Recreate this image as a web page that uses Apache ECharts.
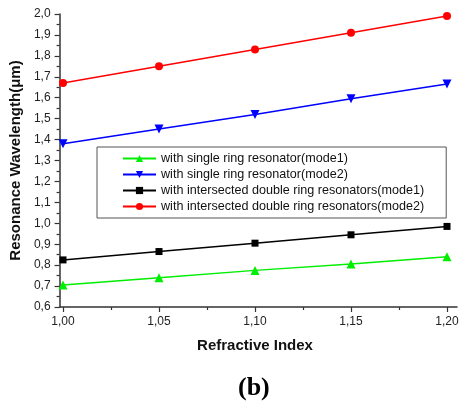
<!DOCTYPE html>
<html>
<head>
<meta charset="utf-8">
<script src="https://cdn.jsdelivr.net/npm/echarts@6/dist/echarts.min.js"></script>
<style>
html, body { margin: 0; padding: 0; background: #fff; }
#chart { width: 462px; height: 402px; }
</style>
</head>
<body>
<div id="chart"></div>
<script>
// refractive index values on the x axis
var refIndex = [1.00, 1.05, 1.10, 1.15, 1.20];
// resonance wavelength (um) per curve
var singleMode1 = [0.705, 0.74, 0.775, 0.805, 0.84];
var singleMode2 = [1.38, 1.45, 1.52, 1.595, 1.665];
var doubleMode1 = [0.825, 0.865, 0.905, 0.945, 0.985];
var doubleMode2 = [1.67, 1.75, 1.83, 1.91, 1.99];
var seriesNames = [
  'with single ring resonator(mode1)',
  'with single ring resonator(mode2)',
  'with intersected double ring resonators(mode1)',
  'with intersected double ring resonators(mode2)'
];

function pairs(ys) {
  return refIndex.map(function (x, i) { return [x, ys[i]]; });
}
function comma(v, d) {
  return v.toFixed(d).replace('.', ',');
}

var chart = echarts.init(document.getElementById('chart'));
var axisColor = '#333';
var font = 'Liberation Sans, Arial, sans-serif';

function line(name, ys, color, symbol, size, rot) {
  return {
    name: name,
    type: 'line',
    xAxisIndex: 0,
    yAxisIndex: 0,
    data: pairs(ys),
    symbol: symbol,
    symbolSize: size,
    symbolRotate: rot || 0,
    lineStyle: { color: color, width: 1.5 },
    itemStyle: { color: color },
    animation: false
  };
}

chart.setOption({
  animation: false,
  grid: [
    // data grid
    { left: 63, right: 15, top: 14, bottom: 95 },
    // frame grid: axis lines reach a bit further
    { left: 59, right: 5, top: 14, bottom: 95 }
  ],
  legend: {
    orient: 'vertical',
    left: 97,
    top: 147,
    padding: [4, 22, 4, 25],
    itemGap: 1,
    itemWidth: 33,
    itemHeight: 9,
    borderColor: '#555',
    borderWidth: 1,
    data: seriesNames,
    textStyle: { fontFamily: font, fontSize: 12.6, color: '#111', lineHeight: 15 }
  },
  xAxis: [
    {
      gridIndex: 0,
      type: 'value',
      min: 1.0,
      max: 1.2,
      interval: 0.05,
      axisLine: { show: false },
      axisTick: { show: true, inside: false, length: 5, lineStyle: { color: axisColor, width: 1.2 } },
      minorTick: { show: true, splitNumber: 2, length: 3, lineStyle: { color: axisColor, width: 1.2 } },
      splitLine: { show: false },
      axisLabel: {
        margin: 9,
        fontFamily: font,
        fontSize: 12,
        color: '#222',
        formatter: function (v) { return comma(v, 2); }
      },
      name: 'Refractive Index',
      nameLocation: 'middle',
      nameGap: 31,
      nameTextStyle: { fontFamily: font, fontSize: 15, fontWeight: 'bold', color: '#111' }
    },
    {
      gridIndex: 1,
      type: 'value',
      min: 0,
      max: 1,
      axisLine: { show: true, lineStyle: { color: axisColor, width: 1.5 } },
      axisTick: { show: false },
      axisLabel: { show: false },
      splitLine: { show: false }
    }
  ],
  yAxis: [
    {
      gridIndex: 0,
      type: 'value',
      min: 0.6,
      max: 2.0,
      interval: 0.1,
      show: false
    },
    {
      gridIndex: 1,
      type: 'value',
      min: 0.6,
      max: 2.0,
      interval: 0.1,
      axisLine: { show: true, lineStyle: { color: axisColor, width: 1.5 } },
      axisTick: { show: true, inside: false, length: 5, lineStyle: { color: axisColor, width: 1.2 } },
      minorTick: { show: true, splitNumber: 2, length: 3, lineStyle: { color: axisColor, width: 1.2 } },
      splitLine: { show: false },
      axisLabel: {
        margin: 9,
        fontFamily: font,
        fontSize: 12,
        color: '#222',
        formatter: function (v) { return comma(v, 1); }
      },
      name: 'Resonance Wavelength(\u03bcm)',
      nameLocation: 'middle',
      nameGap: 34,
      nameTextStyle: { fontFamily: font, fontSize: 15, fontWeight: 'bold', color: '#111' }
    }
  ],
  graphic: [
    {
      type: 'text',
      left: 238,
      top: 375,
      style: {
        text: '(b)',
        fontFamily: 'Liberation Serif, Times New Roman, serif',
        fontSize: 26,
        fontWeight: 'bold',
        fill: '#000'
      }
    }
  ],
  series: [
    line(seriesNames[0], singleMode1, '#00ee00', 'triangle', 9),
    line(seriesNames[1], singleMode2, '#0000ff', 'triangle', 9, 180),
    line(seriesNames[2], doubleMode1, '#000000', 'rect', 7),
    line(seriesNames[3], doubleMode2, '#ff0000', 'circle', 8)
  ]
});
</script>
</body>
</html>
